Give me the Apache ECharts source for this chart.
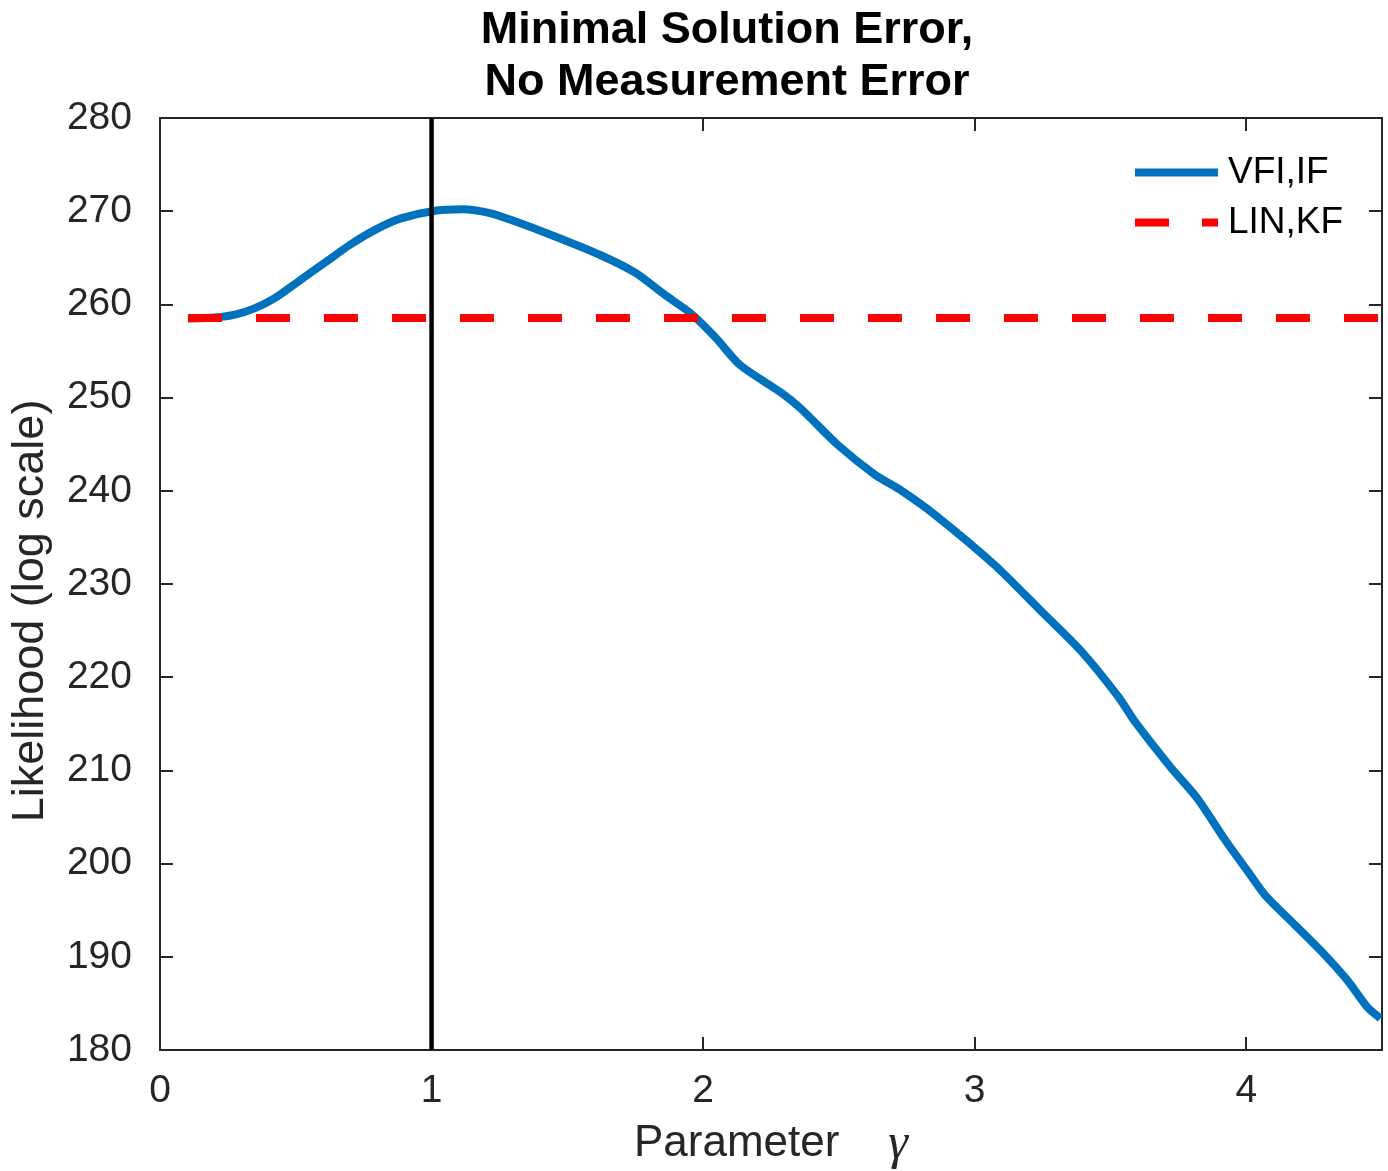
<!DOCTYPE html>
<html>

<head>
  <meta charset="utf-8">
  <script src="https://cdn.jsdelivr.net/npm/echarts@6.0.0/dist/echarts.min.js"></script>
  <style>
    body {
      margin: 0;
    }

    #chart {
      width: 1388px;
      height: 1171px;
    }
  </style>
</head>

<body>
  <div id="chart"></div>
  <script>
    // 参数 gamma
    const gammaVals = [0.103, 0.203, 0.276, 0.350, 0.424, 0.516, 0.608, 0.700, 0.792, 0.884,
      1.002, 1.116, 1.215, 1.289, 1.436, 1.621, 1.750, 1.860, 1.952, 2.044,
      2.136, 2.284, 2.357, 2.497, 2.634, 2.726, 2.855, 3.075, 3.241, 3.389,
      3.529, 3.591, 3.720, 3.820, 3.923, 4.015, 4.070, 4.180, 4.273, 4.372,
      4.446, 4.494]
    // VFI,IF 似然值
    const vfiVals = [258.5, 258.6, 258.9, 259.6, 260.7, 262.6, 264.5, 266.4, 268.0, 269.2,
      270.0, 270.2, 269.8, 269.1, 267.5, 265.3, 263.4, 261.0, 259.1, 256.5,
      253.5, 250.6, 248.9, 244.9, 241.7, 240.1, 237.4, 232.0, 227.2, 222.9,
      217.9, 215.2, 210.4, 207.0, 202.5, 198.8, 196.6, 193.4, 190.7, 187.5,
      184.6, 183.4]
    // LIN,KF 水平线
    const linX = [0.103, 4.5]
    const linVal = 258.55
    // 竖线 gamma = 1
    const trueGamma = 1
    const yRange = [180, 280]
    const xTicks = [0, 1, 2, 3, 4]

    const font = 'Liberation Sans, Arial, Helvetica, sans-serif'
    const axisColor = '#262626'
    const tick = () => ({ show: true, inside: true, length: 13, lineStyle: { color: axisColor, width: 2 } })
    const line = () => ({ show: true, onZero: false, lineStyle: { color: axisColor, width: 2 } })

    const option = {
      backgroundColor: '#fff',
      animation: false,
      title: {
        text: 'Minimal Solution Error,\nNo Measurement Error',
        left: 722,
        textAlign: 'center',
        top: 0,
        textStyle: {
          fontFamily: font,
          fontSize: 45,
          fontWeight: 'bold',
          color: '#000',
          lineHeight: 52
        }
      },
      // y 轴标题
      graphic: [{
        type: 'text',
        x: 31,
        y: 611,
        rotation: Math.PI / 2,
        style: {
          text: 'Likelihood (log scale)',
          font: '45px Liberation Sans, Arial, sans-serif',
          fill: axisColor,
          textAlign: 'center',
          textVerticalAlign: 'middle'
        }
      }],
      grid: {
        left: 160,
        right: 6,
        top: 118,
        bottom: 121,
        outerBoundsMode: 'none'
      },
      legend: {
        data: [{
          name: 'VFI,IF',
          icon: 'path://M0,0H83V8H0Z'
        }, {
          name: 'LIN,KF',
          icon: 'path://M0,0H34V8H0Z M67,0H83V8H67Z'
        }],
        left: 1135,
        top: 154,
        padding: 0,
        orient: 'vertical',
        itemWidth: 83,
        itemHeight: 8,
        itemGap: 13,
        textStyle: {
          fontFamily: font,
          fontSize: 37,
          color: '#000',
          padding: [0, 0, 0, 5]
        }
      },
      xAxis: [{
        type: 'value',
        min: 0,
        max: 4.5,
        interval: 1,
        name: 'Parameter    {g|γ}',
        nameLocation: 'middle',
        nameGap: 68,
        nameTextStyle: {
          fontFamily: font,
          fontSize: 44,
          color: axisColor,
          rich: {
            g: {
              fontFamily: 'Liberation Serif, DejaVu Serif, serif',
              fontStyle: 'italic',
              fontSize: 50,
              color: axisColor,
              padding: [2, 0, 0, 0]
            }
          }
        },
        axisLine: line(),
        axisTick: tick(),
        axisLabel: {
          fontFamily: font,
          fontSize: 39,
          color: axisColor,
          margin: 22,
          formatter: v => xTicks.includes(v) ? String(v) : ''
        },
        splitLine: { show: false }
      }, {
        type: 'value',
        position: 'top',
        min: 0,
        max: 4.5,
        interval: 1,
        axisLine: line(),
        axisTick: tick(),
        axisLabel: { show: false },
        splitLine: { show: false }
      }],
      yAxis: [{
        type: 'value',
        position: 'left',
        min: yRange[0],
        max: yRange[1],
        interval: 10,
        axisLine: line(),
        axisTick: tick(),
        axisLabel: {
          fontFamily: font,
          fontSize: 39,
          color: axisColor,
          margin: 28
        },
        splitLine: { show: false }
      }, {
        type: 'value',
        position: 'right',
        min: yRange[0],
        max: yRange[1],
        interval: 10,
        axisLine: line(),
        axisTick: tick(),
        axisLabel: { show: false },
        splitLine: { show: false }
      }],
      series: [{
        name: 'VFI,IF',
        type: 'line',
        data: gammaVals.map((g, i) => [g, vfiVals[i]]),
        smooth: 0.25,
        symbol: 'none',
        lineStyle: { color: '#0072BD', width: 8 },
        itemStyle: { color: '#0072BD' },
        z: 3
      }, {
        name: 'LIN,KF',
        type: 'line',
        data: linX.map(g => [g, linVal]),
        symbol: 'none',
        lineStyle: { color: '#FF0000', width: 8, type: [34, 34] },
        itemStyle: { color: '#FF0000' },
        z: 4
      }, {
        name: 'true',
        type: 'line',
        data: yRange.map(v => [trueGamma, v]),
        symbol: 'none',
        lineStyle: { color: '#000', width: 4.5 },
        z: 5
      }]
    }

    const chart = echarts.init(document.getElementById('chart'))
    chart.setOption(option)
  </script>
</body>

</html>
